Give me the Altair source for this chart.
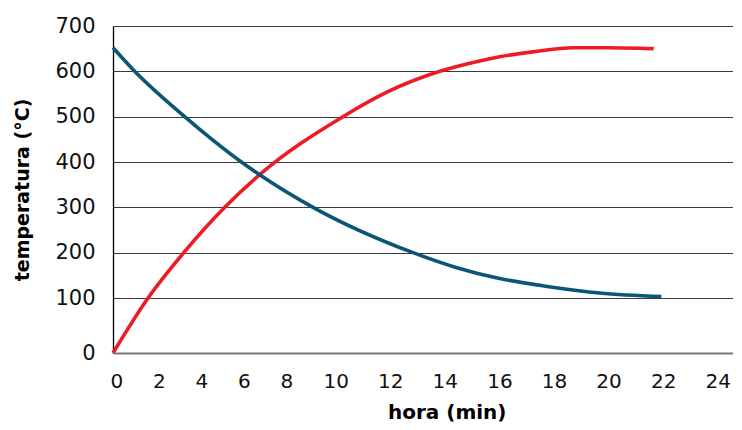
import altair as alt
import pandas as pd

red_t = [0, 1.65, 3.33, 5.26, 6.90, 10.39, 12.0, 13.94, 15.40, 16.13, 17.34, 18.84, 20.07, 21.78]
red_v = [0, 100, 200, 300, 372, 500, 554, 600, 623, 632, 643, 652, 652, 650]
blue_t = [0, 1.02, 3.37, 6.04, 6.90, 9.22, 12.96, 14.5, 16.13, 17.94, 19.8, 22.06]
blue_v = [652, 600, 500, 400, 372, 300, 200, 168, 143, 125, 111, 103]

x_ticks = list(range(0, 25, 2))
y_ticks = list(range(0, 701, 100))

rows = [{"t": t, "v": v, "s": "rojo", "o": i} for i, (t, v) in enumerate(zip(red_t, red_v))]
rows += [{"t": t, "v": v, "s": "azul", "o": i} for i, (t, v) in enumerate(zip(blue_t, blue_v))]
df = pd.DataFrame(rows)

W, H = 620, 327

chart = alt.Chart(df).mark_line(strokeWidth=3.6, interpolate="monotone", strokeCap="butt").encode(
    x=alt.X("t:Q",
            scale=alt.Scale(domain=[0, 8, 10, 24, 24.685], range=[0, 170, 219.3, 601.3, W],
                            nice=False, zero=False),
            axis=alt.Axis(values=x_ticks, grid=False, ticks=False, domain=True, domainColor="#7a7a7a",
                          domainWidth=2, labelOffset=3.4, labelFlush=False, labelPadding=18,
                          labelFont="DejaVu Sans", labelFontSize=20, labelColor="#111", title="hora (min)",
                          titleFont="DejaVu Sans", titleFontSize=20, titleFontWeight="bold",
                          titleColor="#000", titleX=333.7, titleY=65, titleBaseline="alphabetic",
                          zindex=1)),
    y=alt.Y("v:Q",
            scale=alt.Scale(domain=[0, 100, 700], range=[H, 272, 0], nice=False, zero=False),
            axis=alt.Axis(values=y_ticks, grid=True, gridColor="#3a3a3a", gridWidth=1.2, ticks=False,
                          domain=True, domainColor="#000", domainWidth=1.3, labelPadding=18,
                          labelFont="DejaVu Sans", labelFontSize=21, labelColor="#111",
                          title="temperatura (°C)", titleFont="DejaVu Sans", titleFontSize=19,
                          titleFontWeight="bold", titleColor="#000", titleX=-91, titleBaseline="middle")),
    color=alt.Color("s:N", scale=alt.Scale(domain=["rojo", "azul"], range=["#ed1c24", "#0b5577"]), legend=None),
    order="o:Q",
).properties(
    width=W, height=H,
    autosize=alt.AutoSizeParams(type="none"),
    padding={"left": 105, "top": 18, "right": 0, "bottom": 69},
).configure_view(stroke=None)

chart.save("out.html", embed_options={"renderer": "svg", "actions": False})
